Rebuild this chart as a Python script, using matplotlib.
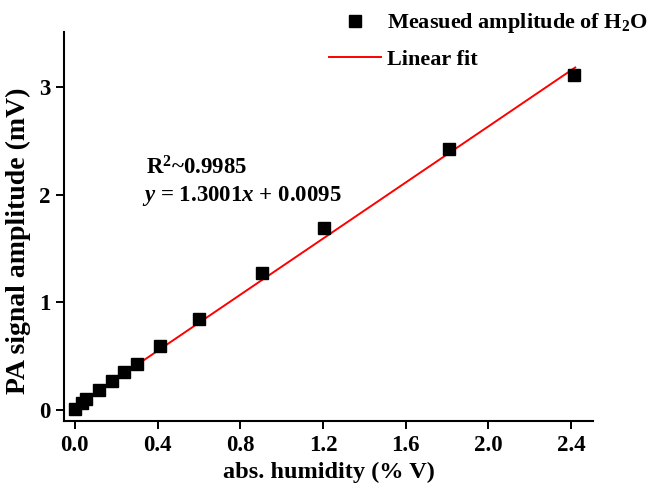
import matplotlib.pyplot as plt

humidity = [0.0, 0.034, 0.053, 0.116, 0.18, 0.24, 0.30, 0.41, 0.60, 0.905, 1.205, 1.81, 2.414]
amplitude = [0.01, 0.065, 0.10, 0.186, 0.27, 0.35, 0.43, 0.60, 0.845, 1.27, 1.69, 2.42, 3.11]
# fit line ends as drawn in the figure
fit_x = [0.0, 2.42]
fit_y = [0.03, 3.18]
x_ticks = [0.0, 0.4, 0.8, 1.2, 1.6, 2.0, 2.4]
y_ticks = [0, 1, 2, 3]

plt.rcParams['font.family'] = ['Liberation Serif', 'DejaVu Serif']
plt.rcParams['font.weight'] = 'bold'
plt.rcParams['mathtext.fontset'] = 'custom'
plt.rcParams['mathtext.rm'] = 'Liberation Serif:bold'
plt.rcParams['mathtext.it'] = 'Liberation Serif:bold:italic'
plt.rcParams['mathtext.bf'] = 'Liberation Serif:bold'

fig = plt.figure(figsize=(6.52, 4.91), dpi=100)
ax = fig.add_axes([0.098, 0.1426, 0.8115, 0.7924])

ax.plot(humidity, amplitude, 's', color='black', markersize=9.2, label=r'Measued amplitude of H$_2$O', zorder=3)
ax.plot(fit_x, fit_y, '-', color='#ff0000', lw=1.4, label='Linear fit', zorder=2)

ax.set_xlim(-0.053, 2.506)
ax.set_ylim(-0.1, 3.51)
ax.set_xticks(x_ticks)
ax.set_xticklabels([f'{t:.1f}' for t in x_ticks])
ax.set_yticks(y_ticks)
ax.tick_params(direction='out', length=6, width=1.4, labelsize=16.5, pad=4)
for side in ['top', 'right']:
    ax.spines[side].set_visible(False)
for side in ['left', 'bottom']:
    ax.spines[side].set_linewidth(1.5)

ax.set_xlabel('abs. humidity (% V)', fontsize=17.5, fontweight='bold', labelpad=4)
ax.set_ylabel('PA signal amplitude (mV)', fontsize=20, fontweight='bold')
ax.yaxis.set_label_coords(-0.062, 0.463)

ax.text(0.345, 2.25, r'R$^2$~0.9985', fontsize=16.5, fontweight='bold', va='center')
ax.text(0.325, 1.99, r'$y$ = 1.3001$x$ + 0.0095', fontsize=16.5, fontweight='bold', va='center')

ax.legend(loc='upper left', bbox_to_anchor=(329 / 652, 0.977), bbox_transform=fig.transFigure,
          frameon=False, fontsize=16, handlelength=2.35, handletextpad=0.27, labelspacing=0.62,
          borderpad=0, borderaxespad=0)

fig.savefig('out.png', dpi=100)
